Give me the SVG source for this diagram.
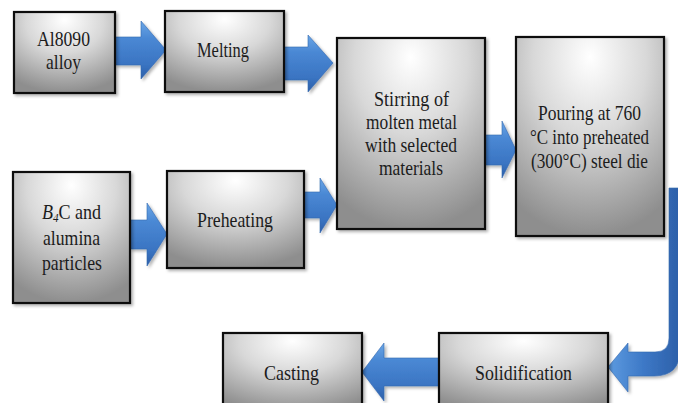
<svg xmlns="http://www.w3.org/2000/svg" width="678" height="403" viewBox="0 0 678 403">
<defs>
  <radialGradient id="boxFill" cx="50%" cy="15%" r="85%" fx="50%" fy="10%">
    <stop offset="0" stop-color="#ffffff"/>
    <stop offset="0.45" stop-color="#d8d8d8"/>
    <stop offset="1" stop-color="#8e8e8e"/>
  </radialGradient>
  <linearGradient id="arrowFill" x1="0" y1="0" x2="0" y2="1">
    <stop offset="0" stop-color="#6aa6e6"/>
    <stop offset="0.3" stop-color="#4a88d4"/>
    <stop offset="0.75" stop-color="#3a74c2"/>
    <stop offset="1" stop-color="#2c5fa8"/>
  </linearGradient>
  <linearGradient id="arrowFillH" x1="0" y1="0" x2="1" y2="0">
    <stop offset="0" stop-color="#5d9be0"/>
    <stop offset="0.5" stop-color="#3d78c6"/>
    <stop offset="1" stop-color="#2c5fa8"/>
  </linearGradient>
  <filter id="shadow" x="-10%" y="-10%" width="125%" height="125%">
    <feDropShadow dx="2" dy="2" stdDeviation="1.5" flood-color="#000" flood-opacity="0.3"/>
  </filter>
</defs>
<style>
  .box { fill: url(#boxFill); stroke: #111; stroke-width: 2.2; filter: url(#shadow); }
  .arrow { fill: url(#arrowFill); stroke: #3468b0; stroke-width: 0.6; filter: url(#shadow); }
  .lbl { font-family: "Liberation Serif", "Times New Roman", serif; font-size: 21px; fill: #1c1c1c; text-anchor: middle; }
</style>
<rect width="678" height="403" fill="#ffffff"/>

<g id="connectors">
  <path class="arrow" d="M115 37 L141 37 L141 21 L166 50 L141 79 L141 65 L115 65 Z"/>
  <path class="arrow" d="M284 47 L308 47 L308 35 L333 63 L308 92 L308 80 L284 80 Z"/>
  <path class="arrow" d="M484 135 L502 135 L502 121 L516 150 L502 178 L502 165 L484 165 Z"/>
  <path class="arrow" d="M130 220 L147 220 L147 203 L167 234 L147 266 L147 249 L130 249 Z"/>
  <path class="arrow" d="M304 192 L320 192 L320 178 L337 205 L320 233 L320 218 L304 218 Z"/>
  <path class="arrow" d="M439 358 L384 358 L384 343 L362 372 L384 401 L384 386 L439 386 Z"/>
  <path class="arrow" style="fill:url(#arrowFillH)" d="M669 188 L680 188 L680 350 Q680 376 654 376 L628 376 L628 392 L608 367 L628 343 L628 352 L655 352 Q669 352 669 338 Z"/>
</g>

<g id="n-al8090">
  <rect class="box" x="14" y="12" width="101" height="81"/>
  <text class="lbl" x="63.5" y="46" textLength="53" lengthAdjust="spacingAndGlyphs">Al8090</text>
  <text class="lbl" x="63.5" y="69" textLength="35" lengthAdjust="spacingAndGlyphs">alloy</text>
</g>
<g id="n-melting">
  <rect class="box" x="165" y="11" width="119" height="81"/>
  <text class="lbl" x="223" y="57" textLength="52" lengthAdjust="spacingAndGlyphs">Melting</text>
</g>
<g id="n-b4c">
  <rect class="box" x="13" y="172" width="117" height="131"/>
  <text class="lbl" transform="translate(71.5 219) scale(0.86 1)"><tspan font-style="italic">B</tspan><tspan font-style="italic" font-size="13" dy="3">4</tspan><tspan dy="-3">C and</tspan></text>
  <text class="lbl" x="71.5" y="245" textLength="57" lengthAdjust="spacingAndGlyphs">alumina</text>
  <text class="lbl" x="72" y="270" textLength="60" lengthAdjust="spacingAndGlyphs">particles</text>
</g>
<g id="n-preheating">
  <rect class="box" x="167" y="171" width="137" height="97"/>
  <text class="lbl" x="235" y="227" textLength="76" lengthAdjust="spacingAndGlyphs">Preheating</text>
</g>
<g id="n-stirring">
  <rect class="box" x="337" y="38" width="148" height="191"/>
  <text class="lbl" x="411.5" y="106" textLength="75" lengthAdjust="spacingAndGlyphs">Stirring of</text>
  <text class="lbl" x="411.5" y="129" textLength="91" lengthAdjust="spacingAndGlyphs">molten metal</text>
  <text class="lbl" x="411" y="152" textLength="92" lengthAdjust="spacingAndGlyphs">with selected</text>
  <text class="lbl" x="411" y="175" textLength="64" lengthAdjust="spacingAndGlyphs">materials</text>
</g>
<g id="n-pouring">
  <rect class="box" x="516" y="37" width="148" height="199"/>
  <text class="lbl" x="589.5" y="120" textLength="103" lengthAdjust="spacingAndGlyphs">Pouring at 760</text>
  <text class="lbl" x="589.5" y="144" textLength="119" lengthAdjust="spacingAndGlyphs">°C into preheated</text>
  <text class="lbl" x="589.5" y="168" textLength="117" lengthAdjust="spacingAndGlyphs">(300°C) steel die</text>
</g>
<g id="n-solidification">
  <rect class="box" x="439" y="333" width="169" height="80"/>
  <text class="lbl" x="523.5" y="380" textLength="97" lengthAdjust="spacingAndGlyphs">Solidification</text>
</g>
<g id="n-casting">
  <rect class="box" x="223" y="333" width="139" height="80"/>
  <text class="lbl" x="291.5" y="380" textLength="55" lengthAdjust="spacingAndGlyphs">Casting</text>
</g>
</svg>
